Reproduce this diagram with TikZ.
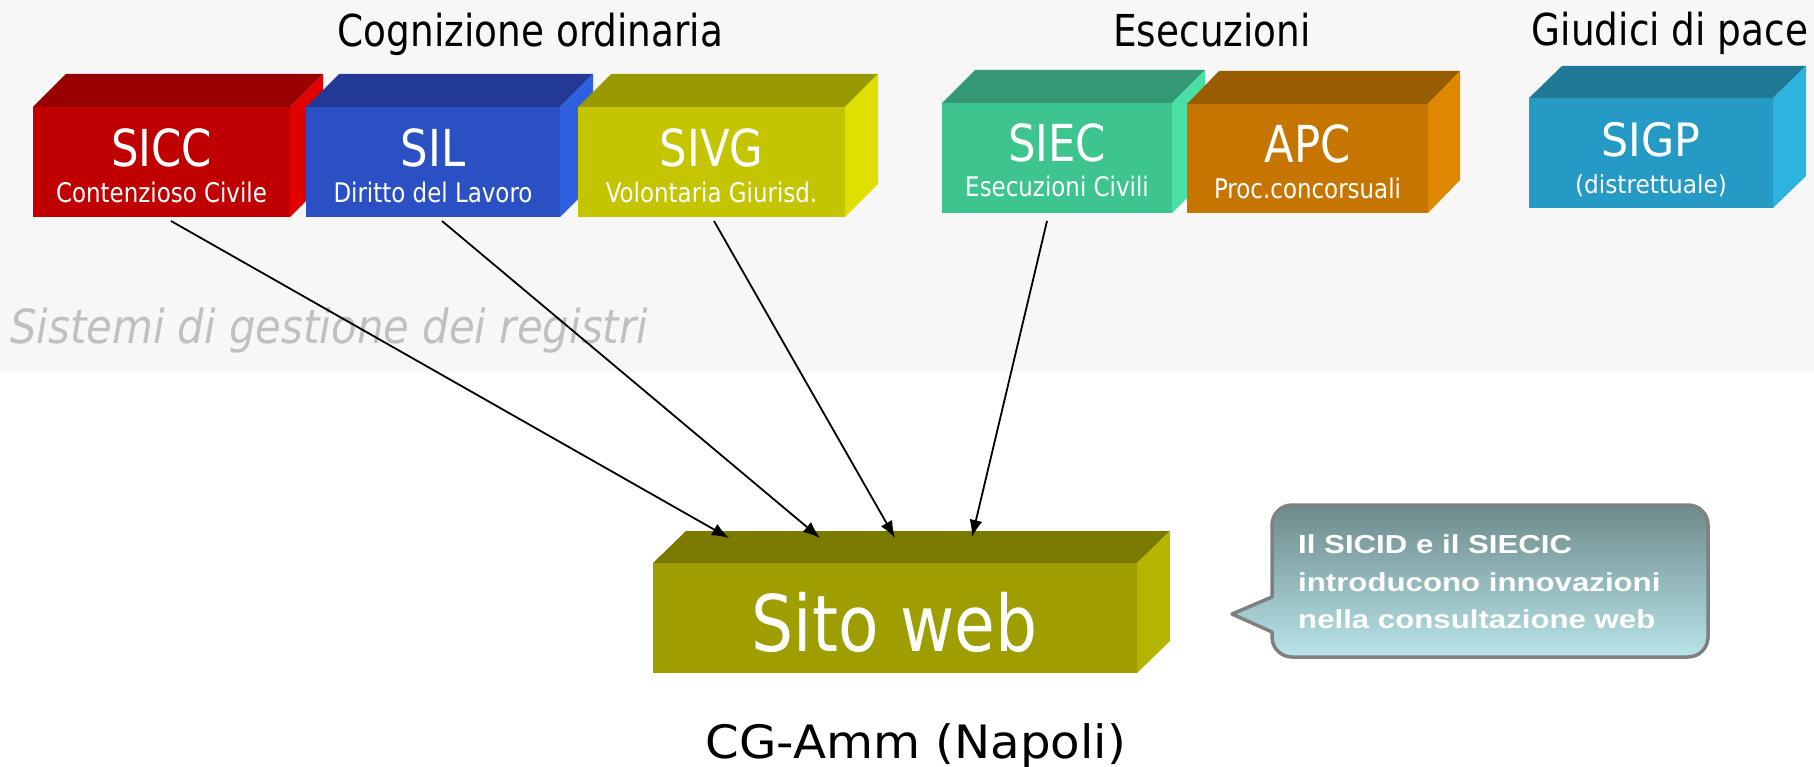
\documentclass[tikz,border=0pt]{standalone}
\usepackage{fontspec}
\usetikzlibrary{arrows.meta}
\newfontfamily\tah[FakeStretch=0.85]{DejaVu Sans}
\newfontfamily\tahw[FakeStretch=0.93]{DejaVu Sans}
\newfontfamily\verw[FakeStretch=1.05]{DejaVu Sans}
\newfontfamily\tahit[FakeStretch=0.89]{DejaVu Sans}
\newfontfamily\arb[FakeStretch=1.2]{Liberation Sans}
\definecolor{bgband}{HTML}{F7F7F7}
\definecolor{redF}{HTML}{C00000}\definecolor{redT}{HTML}{990000}\definecolor{redS}{HTML}{E00000}
\definecolor{bluF}{HTML}{2B50C4}\definecolor{bluT}{HTML}{223A96}\definecolor{bluS}{HTML}{2E5FE0}
\definecolor{yelF}{HTML}{C4C400}\definecolor{yelT}{HTML}{999900}\definecolor{yelS}{HTML}{E0E000}
\definecolor{grnF}{HTML}{3EC48E}\definecolor{grnT}{HTML}{339873}\definecolor{grnS}{HTML}{48E0A5}
\definecolor{orgF}{HTML}{C67600}\definecolor{orgT}{HTML}{995C00}\definecolor{orgS}{HTML}{E08700}
\definecolor{cyaF}{HTML}{259AC4}\definecolor{cyaT}{HTML}{1F7896}\definecolor{cyaS}{HTML}{2DB3E0}
\definecolor{oliF}{HTML}{9E9E00}\definecolor{oliT}{HTML}{7A7A00}\definecolor{oliS}{HTML}{B5B500}
\definecolor{calTop}{HTML}{6E8A8C}\definecolor{calBot}{HTML}{B8E4E8}
\definecolor{calBorder}{HTML}{808080}
\definecolor{sisGray}{HTML}{C0C0C0}
\newcommand\cubesides[5]{%
  \fill[#4] (#1.north west) -- ++(#2,-#3) -- ([xshift=#2pt,yshift=#3pt]#1.north east) -- (#1.north east) -- cycle;
  \fill[#5] (#1.north east) -- ++(#2,-#3) -- ([xshift=#2pt,yshift=#3pt]#1.south east) -- (#1.south east) -- cycle;
}
\tikzset{
  frontbox/.style={fill=#1, anchor=north west, inner sep=0pt, outer sep=0pt, draw=none},
  biglbl/.style={anchor=base, inner sep=0pt, text=white, font=\tah\fontsize{51}{55}\selectfont},
  sublbl/.style={anchor=base, inner sep=0pt, text=white, font=\tah\fontsize{27}{30}\selectfont},
  title/.style={anchor=base, inner sep=0pt, text=black, font=\tah\fontsize{44}{48}\selectfont},
  calltxt/.style={anchor=base west, inner sep=0pt, text=white, font=\arb\bfseries\fontsize{26}{30}\selectfont},
  arr/.style={line width=1.8pt, -{Latex[length=17pt,width=13pt]}},
}
\begin{document}
\begin{tikzpicture}[x=1pt,y=-1pt]
\fill[white] (0,0) rectangle (1814,767);
\useasboundingbox (0,0) rectangle (1814,767);
\fill[bgband] (0,0) rectangle (1814,372);

% titles
\node[title] (tcog) at (530.5,47) {Cognizione ordinaria};
\node[title] (tese) at (1212,47) {Esecuzioni};
\node[title] (tgdp) at (1670,46) {Giudici di pace};
\node[anchor=base west, inner sep=0pt, text=sisGray, font=\tahit\itshape\fontsize{47}{50}\selectfont] (tsis) at (10,343) {Sistemi di gestione dei registri};

% boxes
\node[frontbox=redF, minimum width=257, minimum height=110] (sicc) at (33,107) {};
\cubesides{sicc}{33}{33}{redT}{redS}
\node[frontbox=bluF, minimum width=254, minimum height=110] (sil) at (306,107) {};
\cubesides{sil}{33}{33}{bluT}{bluS}
\node[frontbox=yelF, minimum width=267, minimum height=110] (sivg) at (578,107) {};
\cubesides{sivg}{33}{33}{yelT}{yelS}
\node[frontbox=grnF, minimum width=230, minimum height=110] (siec) at (942,103) {};
\cubesides{siec}{33}{33}{grnT}{grnS}
\node[frontbox=orgF, minimum width=241, minimum height=109] (apc) at (1187,104) {};
\cubesides{apc}{32}{33}{orgT}{orgS}
\node[frontbox=cyaF, minimum width=244, minimum height=110] (sigp) at (1529,98) {};
\cubesides{sigp}{33}{32}{cyaT}{cyaS}
\node[frontbox=oliF, minimum width=484, minimum height=110] (web) at (653,563) {};
\cubesides{web}{33}{32}{oliT}{oliS}

% labels
\node[biglbl] (lsicc) at ([yshift=-60pt]sicc.north) {SICC};
\node[sublbl] (ssicc) at ([yshift=-96pt]sicc.north) {Contenzioso Civile};
\node[biglbl] (lsil) at ([yshift=-60pt]sil.north) {SIL};
\node[sublbl] (ssil) at ([yshift=-96pt]sil.north) {Diritto del Lavoro};
\node[biglbl] (lsivg) at ([yshift=-60pt]sivg.north) {SIVG};
\node[sublbl] (ssivg) at ([yshift=-96pt]sivg.north) {Volontaria Giurisd.};
\node[biglbl] (lsiec) at ([yshift=-59pt]siec.north) {SIEC};
\node[sublbl] (ssiec) at ([yshift=-94pt]siec.north) {Esecuzioni Civili};
\node[biglbl] (lapc) at ([yshift=-59pt]apc.north) {APC};
\node[sublbl] (sapc) at ([yshift=-95pt]apc.north) {Proc.concorsuali};
\node[biglbl, font=\tahw\fontsize{46}{50}\selectfont] (lsigp) at ([yshift=-59pt]sigp.north) {SIGP};
\node[sublbl, font=\tahw\fontsize{25}{28}\selectfont] (ssigp) at ([yshift=-96pt]sigp.north) {(distrettuale)};
\node[anchor=base, inner sep=0pt, text=white, font=\tah\fontsize{78}{84}\selectfont] (lweb) at ([xshift=-0.5pt,yshift=-88pt]web.north) {Sito web};

\node[anchor=base, inner sep=0pt, text=black, font=\verw\fontsize{46}{50}\selectfont] (tcg) at (916,758) {CG-Amm (Napoli)};

% arrows
\coordinate (w1) at (729,538);
\coordinate (w2) at (820,538);
\coordinate (w3) at (895,538);
\coordinate (w4) at (972,537);
\draw[arr] ([xshift=9.5pt,yshift=-4pt]sicc.south) -- (w1);
\draw[arr] ([xshift=9pt,yshift=-4pt]sil.south) -- (w2);
\draw[arr] ([xshift=2.5pt,yshift=-4pt]sivg.south) -- (w3);
\draw[arr] ([xshift=-10pt,yshift=-8pt]siec.south) -- (w4);

% callout
\path[draw=calBorder, line width=3.5pt, top color=calTop, bottom color=calBot, line join=round]
  (1272,632) [rounded corners=20] -- (1272,657) -- (1708,657) -- (1708,505) -- (1272,505) [sharp corners] -- (1272,597) -- (1232,614) -- cycle;
\node[calltxt] (c1) at (1298,553) {Il SICID e il SIECIC};
\node[calltxt] (c2) at (1298,591) {introducono innovazioni};
\node[calltxt] (c3) at (1298,628) {nella consultazione web};
\end{tikzpicture}
\end{document}
